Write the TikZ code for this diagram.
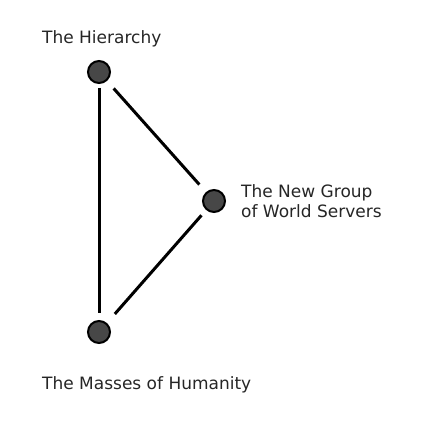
\documentclass[tikz,border=0pt]{standalone}
\usepackage{fontspec}
\setmainfont{DejaVu Sans}
\begin{document}
\begin{tikzpicture}[x=1pt,y=-1pt,
  dot/.style={circle,draw=black,fill=black!72,line width=2pt,minimum size=22pt,inner sep=0pt},
  link/.style={line width=3pt,black},
  lbl/.style={anchor=base west,inner sep=0pt,text=black!85,font=\fontsize{17}{20}\selectfont}]
\useasboundingbox[fill=white] (0,0) rectangle (440,443);
\node[dot] (top) at (99,72) {};
\node[dot] (mid) at (214,201) {};
\node[dot] (bot) at (99,332) {};
\draw[link,shorten <=4pt,shorten >=7pt] (top) -- (bot);
\draw[link,shorten <=10pt,shorten >=10pt] (top) -- (mid);
\draw[link,shorten <=7pt,shorten >=12pt] (mid) -- (bot);
\node[lbl] (t1) at (42,44) {The Hierarchy};
\node[lbl] (t2) at (241,198) {The New Group};
\node[lbl] (t3) at (241,217) {of World Servers};
\node[lbl] (t4) at (42,389) {The Masses of Humanity};
\end{tikzpicture}
\end{document}
